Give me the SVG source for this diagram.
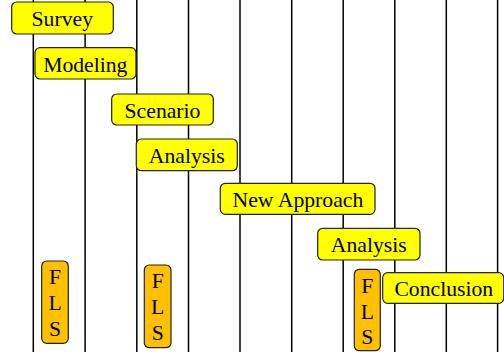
<svg xmlns="http://www.w3.org/2000/svg" width="504" height="352" viewBox="0 0 504 352">
<style>
.ln{stroke:#000;stroke-width:1.5}
.box{fill:#ffff00;stroke:#222;stroke-width:1.2}
.fls{fill:#ffc000;stroke:#222;stroke-width:1.2}
text{font-family:"Liberation Serif","Times New Roman",serif;font-size:21.7px;fill:#000;text-anchor:middle}
</style>
<rect width="504" height="352" fill="#fff"/>
<g id="connectors">
<line class="ln" x1="33.3" y1="0" x2="33.3" y2="352"/>
<line class="ln" x1="85.1" y1="0" x2="85.1" y2="352"/>
<line class="ln" x1="136.8" y1="0" x2="136.8" y2="352"/>
<line class="ln" x1="188.5" y1="0" x2="188.5" y2="352"/>
<line class="ln" x1="240" y1="0" x2="240" y2="352"/>
<line class="ln" x1="291.7" y1="0" x2="291.7" y2="352"/>
<line class="ln" x1="343.2" y1="0" x2="343.2" y2="352"/>
<line class="ln" x1="394.8" y1="0" x2="394.8" y2="352"/>
<line class="ln" x1="446.3" y1="0" x2="446.3" y2="352"/>
<line class="ln" x1="497.6" y1="0" x2="497.6" y2="352"/>
</g>
<g id="survey"><rect class="box" x="11.7" y="2" width="101.6" height="32" rx="5"/><text x="62.3" y="26">Survey</text></g>
<g id="modeling"><rect class="box" x="35" y="47.7" width="101" height="31.3" rx="5"/><text x="85.3" y="71.5">Modeling</text></g>
<g id="scenario"><rect class="box" x="111.7" y="94" width="101.6" height="31" rx="5"/><text x="162.5" y="117.5">Scenario</text></g>
<g id="analysis1"><rect class="box" x="136.3" y="139" width="101" height="31.7" rx="5"/><text x="186.8" y="162.5">Analysis</text></g>
<g id="newapproach"><rect class="box" x="220.3" y="183.3" width="154.7" height="31" rx="5"/><text x="297.9" y="207">New Approach</text></g>
<g id="analysis2"><rect class="box" x="317.7" y="228.3" width="102.3" height="31.7" rx="5"/><text x="368.8" y="252">Analysis</text></g>
<g id="conclusion"><rect class="box" x="382.7" y="272.7" width="121" height="30.6" rx="5"/><text x="443.8" y="296">Conclusion</text></g>
<g id="fls1"><rect class="fls" x="41.7" y="261" width="26.6" height="82.3" rx="5"/><text x="55" y="283.5">F</text><text x="55" y="310">L</text><text x="55" y="335.5">S</text></g>
<g id="fls2"><rect class="fls" x="144.3" y="265" width="26.7" height="82.7" rx="5"/><text x="157.7" y="287.5">F</text><text x="157.7" y="313.5">L</text><text x="157.7" y="340">S</text></g>
<g id="fls3"><rect class="fls" x="354.3" y="269.3" width="26" height="81.4" rx="5"/><text x="367.3" y="292.5">F</text><text x="367.3" y="318.5">L</text><text x="367.3" y="343.5">S</text></g>
</svg>
